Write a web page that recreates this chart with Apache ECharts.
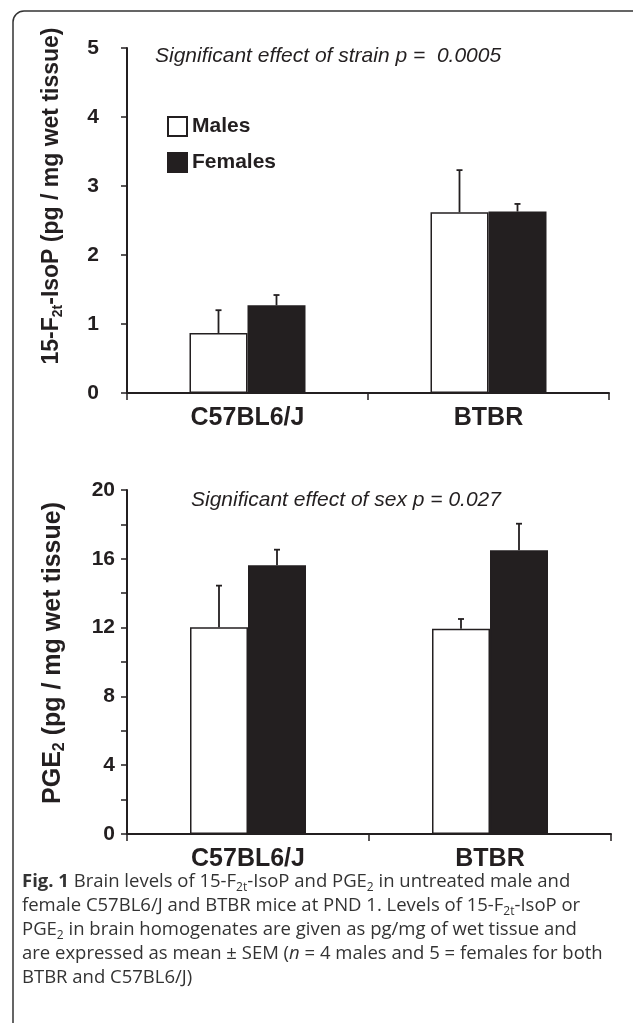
<!DOCTYPE html>
<html>
<head>
<meta charset="utf-8">
<script src="https://cdn.jsdelivr.net/npm/echarts@6/dist/echarts.min.js"></script>
<style>
  html, body { margin: 0; padding: 0; background: #fff; }
  #main { width: 633px; height: 1023px; }
</style>
</head>
<body>
<div id="main"></div>
<script>
// data
const strains = ['C57BL6/J', 'BTBR'];
const seriesNames = ['Males', 'Females'];

// 15-F2t-IsoP (top panel)
const isoMale = [0.87, 2.62];
const isoMaleSem = [0.33, 0.61];
const isoFemale = [1.27, 2.63];
const isoFemaleSem = [0.15, 0.11];

// PGE2 (bottom panel)
const pgeMale = [12.02, 11.94];
const pgeMaleSem = [2.42, 0.56];
const pgeFemale = [15.62, 16.49];
const pgeFemaleSem = [0.91, 1.55];

const ink = '#231f20';
const barW = 58;
const axisFont = 'Liberation Sans, Arial, sans-serif';
const capFont = 'Open Sans, Noto Sans, sans-serif';

function errData(mean, sem) {
    return mean.map((v, i) => [i, v, v + sem[i]]);
}

// error bars only go up, small cap on top
function errorBar(offset) {
    return function (params, api) {
        let base = api.coord([api.value(0), api.value(1)]);
        let top = api.coord([api.value(0), api.value(2)]);
        let x = base[0] + offset;
        return {
            type: 'group',
            children: [
                {type: 'line', shape: {x1: x, y1: base[1], x2: x, y2: top[1]}, style: {stroke: ink, lineWidth: 1.8}},
                {type: 'line', shape: {x1: x - 3, y1: top[1], x2: x + 3, y2: top[1]}, style: {stroke: ink, lineWidth: 1.8}}
            ]
        };
    };
}

function yAxis(gridIndex, max, interval, margin, minor) {
    return {
        type: 'value', gridIndex: gridIndex, min: 0, max: max, interval: interval,
        axisLine: {show: true, lineStyle: {color: ink, width: 2}},
        axisTick: {show: true, length: 6, lineStyle: {color: ink, width: 1.5}},
        minorTick: {show: minor, splitNumber: 2, length: 6, lineStyle: {color: ink, width: 1.5}},
        splitLine: {show: false},
        axisLabel: {margin: margin, fontFamily: axisFont, fontWeight: 'bold', fontSize: 21, color: ink}
    };
}

function xAxis(gridIndex) {
    return {
        type: 'category', gridIndex: gridIndex, data: strains,
        axisLine: {lineStyle: {color: ink, width: 2}},
        axisTick: {show: true, length: 7, lineStyle: {color: ink, width: 1.5}},
        axisLabel: {margin: 13, fontFamily: axisFont, fontWeight: 'bold', fontSize: 25, color: ink}
    };
}

function bars(name, data, xi, yi, filled) {
    return {
        name: name, type: 'bar', xAxisIndex: xi, yAxisIndex: yi, data: data,
        barWidth: barW, barGap: '0%',
        itemStyle: {color: filled ? ink : '#fff', borderColor: ink, borderWidth: 1.5},
        emphasis: {disabled: true}
    };
}

function errors(mean, sem, xi, yi, offset) {
    return {
        type: 'custom', xAxisIndex: xi, yAxisIndex: yi, z: 5,
        data: errData(mean, sem), encode: {x: 0, y: [1, 2]},
        renderItem: errorBar(offset), silent: true
    };
}

function titleRich(size) {
    return {
        a: {fontFamily: axisFont, fontWeight: 'bold', fontSize: size, lineHeight: size + 4, fill: ink},
        s: {fontFamily: axisFont, fontWeight: 'bold', fontSize: Math.round(size * 0.62), lineHeight: Math.round(size * 0.62), verticalAlign: 'bottom', fill: ink}
    };
}

function yTitle(x, y, text, size) {
    return {
        type: 'text', x: x, y: y, rotation: Math.PI / 2, silent: true,
        style: {text: text, rich: titleRich(size), align: 'center', verticalAlign: 'middle'}
    };
}

const capRich = {
    n: {fontFamily: capFont, fontSize: 18.5, lineHeight: 24, fill: '#333'},
    b: {fontFamily: capFont, fontSize: 18.5, lineHeight: 24, fontWeight: 'bold', fill: '#333'},
    i: {fontFamily: capFont, fontSize: 18.5, lineHeight: 24, fontStyle: 'italic', fill: '#333'},
    s: {fontFamily: capFont, fontSize: 12, lineHeight: 12, verticalAlign: 'bottom', fill: '#333'}
};

function captionLine(y, text) {
    return {type: 'text', left: 22, top: y, silent: true, style: {text: text, rich: capRich}};
}

let option = {
    animation: false,
    backgroundColor: '#fff',
    grid: [
        {left: 127, top: 48, width: 482, height: 345},
        {left: 127, top: 490, width: 484, height: 344}
    ],
    legend: {
        data: seriesNames, orient: 'vertical', left: 162, top: 111,
        itemWidth: 19, itemHeight: 19, itemGap: 15, icon: 'rect',
        textStyle: {fontFamily: axisFont, fontWeight: 'bold', fontSize: 21, color: ink}
    },
    xAxis: [xAxis(0), xAxis(1)],
    yAxis: [yAxis(0, 5, 1, 28, false), yAxis(1, 20, 4, 12, true)],
    series: [
        bars('Males', isoMale, 0, 0, false),
        bars('Females', isoFemale, 0, 0, true),
        bars('Males', pgeMale, 1, 1, false),
        bars('Females', pgeFemale, 1, 1, true),
        errors(isoMale, isoMaleSem, 0, 0, -barW / 2),
        errors(isoFemale, isoFemaleSem, 0, 0, barW / 2),
        errors(pgeMale, pgeMaleSem, 1, 1, -barW / 2),
        errors(pgeFemale, pgeFemaleSem, 1, 1, barW / 2)
    ],
    graphic: [
        {type: 'rect', silent: true, shape: {x: 13, y: 11, width: 700, height: 1100, r: [11, 0, 0, 0]},
            style: {fill: 'none', stroke: '#333', lineWidth: 1.5}},
        yTitle(52, 196, '{a|15-F}{s|2t}{a|-IsoP (pg / mg wet tissue)}', 23),
        yTitle(53, 653, '{a|PGE}{s|2}{a| (pg / mg wet tissue)}', 25),
        {type: 'text', left: 155, top: 46, silent: true,
            style: {text: 'Significant effect of strain p =  0.0005', fontFamily: axisFont, fontStyle: 'italic', fontSize: 21, fill: ink}},
        {type: 'text', left: 191, top: 490, silent: true,
            style: {text: 'Significant effect of sex p = 0.027', fontFamily: axisFont, fontStyle: 'italic', fontSize: 21, fill: ink}},
        captionLine(872, '{b|Fig. 1}{n| Brain levels of 15-F}{s|2t}{n|-IsoP and PGE}{s|2}{n| in untreated male and}'),
        captionLine(896, '{n|female C57BL6/J and BTBR mice at PND 1. Levels of 15-F}{s|2t}{n|-IsoP or}'),
        captionLine(920, '{n|PGE}{s|2}{n| in brain homogenates are given as pg/mg of wet tissue and}'),
        captionLine(944, '{n|are expressed as mean ± SEM (}{i|n}{n| = 4 males and 5 = females for both}'),
        captionLine(968, '{n|BTBR and C57BL6/J)}')
    ]
};

let myChart = echarts.init(document.getElementById('main'));
myChart.setOption(option);
</script>
</body>
</html>
